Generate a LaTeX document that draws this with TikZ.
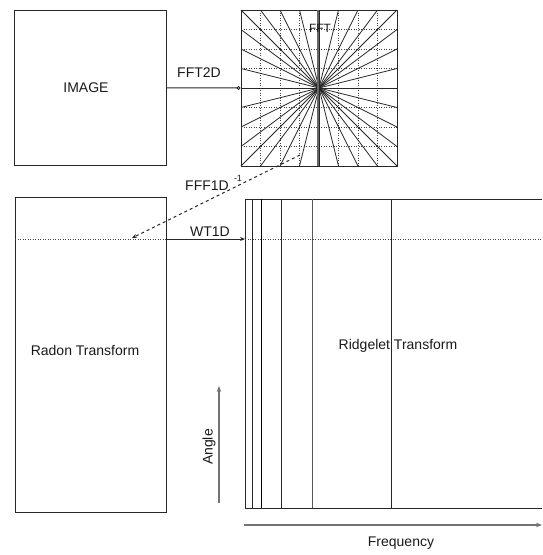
\documentclass[tikz,border=0pt]{standalone}
\usepackage{fontspec}
\setmainfont{Liberation Sans}
\usetikzlibrary{arrows.meta}
\begin{document}
\begin{tikzpicture}[x=1pt,y=-1pt,
  box/.style={draw=black!85, line width=1pt, inner sep=0pt},
  lbl/.style={font=\fontsize{14}{16}\selectfont, inner sep=0pt, text=black!90},
  gridln/.style={dash pattern=on 1pt off 1.5pt, line width=0.7pt, black!75},
  ray/.style={line width=0.8pt, black!85},
  conn/.style={line width=1pt, black!85},
  axisarrow/.style={line width=1.6pt, black!55, -{Stealth[length=6pt,width=4.5pt]}},
  vline/.style={line width=0.8pt, black!85},
  ]
\useasboundingbox (0,0) rectangle (542,555);

% IMAGE box
\node[box, minimum width=152pt, minimum height=154.5pt] (img) at (90.7,87.8) {};
\node[lbl] (imglbl) at (86,88) {IMAGE};

% FFT box with pseudo-polar grid
\node[box, minimum width=156pt, minimum height=156pt] (fft) at (319,88) {};
\foreach \k in {1,2,3,5,6,7} {
  \draw[gridln] ({241+\k*19.5},10) -- ({241+\k*19.5},166);
  \draw[gridln] (241,{10+\k*19.5}) -- (397,{10+\k*19.5});
}
\foreach \i in {-4,...,4}
  \draw[ray] ({319+\i*19.5},10) -- ({319-\i*19.5},166);
\foreach \j in {-3,...,3}
  \draw[ray] (241,{88+\j*19.5}) -- (397,{88-\j*19.5});
\draw[line width=1.8pt, black!60] (318,10) -- (318,166);
\node[lbl, font=\fontsize{12}{14}\selectfont] (fftlbl) at (320,28) {FFT};

% FFT2D connector
\draw[conn, -{Circle[open,length=4pt,width=4pt]}] (img.east) -- (fft.west);
\node[lbl] (fft2dlbl) at (199,73) {FFT2D};

% Radon box
\node[box, minimum width=151.5pt, minimum height=315pt] (radon) at (91,354.5) {};
\node[lbl] (radonlbl) at (85,350) {Radon Transform};

% Ridgelet box (open to the right)
\coordinate (rtl) at (245,199);
\coordinate (rbl) at (245,508);
\draw[line width=1pt, black!85] (542,199) -- (rtl) -- (rbl) -- (542,508);
\draw[vline] (252,199) -- (252,508);
\draw[line width=1.3pt, black] (261.7,199) -- (261.7,508);
\draw[vline] (281,199) -- (281,508);
\draw[vline, black!65] (312.7,199) -- (312.7,508);
\draw[vline] (391.7,199) -- (391.7,508);
\node[lbl] (ridglbl) at (398,346) {Ridgelet Transform};

% dotted line y=239
\draw[gridln] (15,239) -- (166.7,239);
\draw[gridln] (245,239) -- (542,239);

% WT1D connector
\coordinate (wtS) at (166.7,239);
\coordinate (wtE) at (245,239);
\draw[conn, -{Stealth[length=5pt,width=4pt]}] (wtS) -- (wtE);
\node[lbl] (wt1dlbl) at (210,232) {WT1D};

% inverse FFT1D connector
\coordinate (fftpt) at (300,155);
\coordinate (radpt) at (132,238);
\draw[conn, dashed, -{Stealth[length=5pt,width=4pt]}] (fftpt) -- (radpt);
\node[lbl] (fft1dlbl) at (207,186) {FFF1D};
\node[lbl, font=\fontsize{9}{10}\selectfont] (invlbl) at (238,178) {-1};

% axes
\coordinate (angbot) at (219,503);
\coordinate (angtop) at (219,386);
\draw[axisarrow] (angbot) -- (angtop);
\node[lbl, rotate=90] (anglelbl) at (209,447) {Angle};

\coordinate (freqL) at (244,525);
\coordinate (freqR) at (542,525);
\draw[axisarrow] (freqL) -- (freqR);
\node[lbl] (freqlbl) at (401,543) {Frequency};
\end{tikzpicture}
\end{document}
